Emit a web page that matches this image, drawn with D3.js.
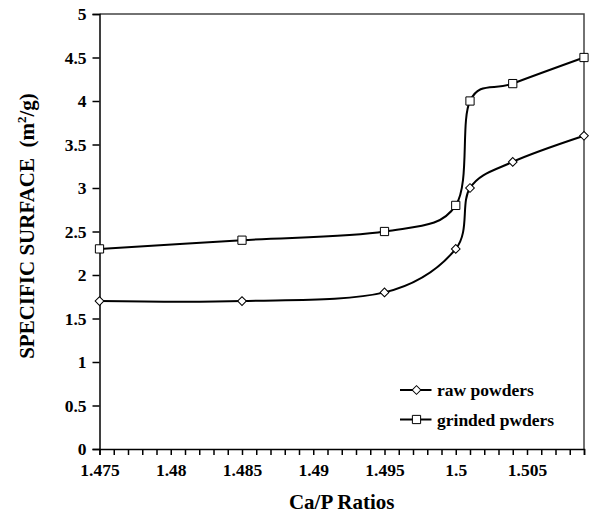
<!DOCTYPE html>
<html>
<head>
<meta charset="utf-8">
<script src="https://cdn.jsdelivr.net/npm/d3@7"></script>
<style>
  body { margin: 0; background: #fff; }
</style>
</head>
<body>
<div id="chart"></div>
<script>
// Ca/P ratios on the x axis
const ratios = [1.475, 1.485, 1.495, 1.5, 1.501, 1.504, 1.509];
// specific surface (m2/g)
const rawPowders = [1.7, 1.7, 1.8, 2.3, 3.0, 3.3, 3.6];
const grindedPowders = [2.3, 2.4, 2.5, 2.8, 4.0, 4.2, 4.5];
const seriesNames = ['raw powders', 'grinded pwders'];
const yTicks = [0, 0.5, 1, 1.5, 2, 2.5, 3, 3.5, 4, 4.5, 5];
const xMajorTicks = [1.475, 1.48, 1.485, 1.49, 1.495, 1.5, 1.505];

const font = 'Liberation Serif';
const width = 591, height = 517;
const margin = {top: 14, right: 7, bottom: 68, left: 99.5};

const svg = d3.select('#chart')
  .append('svg')
    .attr('width', width)
    .attr('height', height)
    .attr('font-family', font)
    .attr('font-weight', 'bold');

const x = d3.scaleLinear()
  .domain([1.475, 1.509])
  .range([margin.left, width - margin.right]);

const y = d3.scaleLinear()
  .domain([0, 5])
  .range([height - margin.bottom, margin.top]);

// plot frame (top + right)
svg.append('path')
  .attr('d', `M${x(1.475)},${y(5)}H${x(1.509)}V${y(0)}`)
  .attr('fill', 'none')
  .attr('stroke', '#444')
  .attr('stroke-width', 1.5);

// y axis
const yAxis = svg.append('g')
  .attr('transform', `translate(${x(1.475)},0)`)
  .call(d3.axisLeft(y).tickValues(yTicks).tickFormat(d3.format('')).tickSize(7).tickPadding(6));
yAxis.attr('font-family', font);
yAxis.select('.domain').attr('stroke', '#000').attr('stroke-width', 1.5);
yAxis.selectAll('.tick line').attr('stroke-width', 1.5);
yAxis.selectAll('text').attr('font-size', 17.5).attr('fill', '#000').attr('font-family', font);

// x axis, minor ticks every 0.001
const minor = d3.range(0, 35).map(i => +(1.475 + i * 0.001).toFixed(3));
const xAxis = svg.append('g')
  .attr('transform', `translate(0,${y(0)})`)
  .call(d3.axisBottom(x).tickValues(minor).tickSize(6).tickPadding(9)
    .tickFormat(d => xMajorTicks.some(t => Math.abs(t - d) < 1e-9) ? d3.format('')(d) : ''));
xAxis.attr('font-family', font);
xAxis.select('.domain').attr('stroke', '#000').attr('stroke-width', 1.5);
xAxis.selectAll('.tick line').attr('stroke-width', 1.5);
xAxis.selectAll('text').attr('font-size', 17.5).attr('fill', '#000').attr('font-family', font);

// axis titles
svg.append('text')
  .attr('x', (x(1.475) + x(1.509)) / 2)
  .attr('y', 509)
  .attr('text-anchor', 'middle')
  .attr('font-size', 21)
  .attr('font-family', font)
  .text('Ca/P Ratios');

const yTitle = svg.append('text')
  .attr('transform', 'translate(34,226) rotate(-90)')
  .attr('text-anchor', 'middle')
  .attr('font-family', font)
  .attr('font-size', 21);
yTitle.append('tspan').text('SPECIFIC SURFACE\u00a0\u00a0(m');
yTitle.append('tspan').attr('font-size', 13).attr('dy', -8).text('2');
yTitle.append('tspan').attr('dy', 8).text('/g)');

// lines
const line = d3.line()
  .x((d, i) => x(ratios[i]))
  .y(d => y(d))
  .curve(d3.curveCardinal.tension(0));

const series = [rawPowders, grindedPowders];
series.forEach(vals => {
  svg.append('path')
    .datum(vals)
    .attr('d', line)
    .attr('fill', 'none')
    .attr('stroke', '#000')
    .attr('stroke-width', 2);
});

const diamond = d3.symbol().type(d3.symbolSquare).size(38);
const square = d3.symbol().type(d3.symbolSquare).size(68);

function drawMarker(g, kind, cx, cy) {
  if (kind === 0) {
    g.append('path')
      .attr('d', diamond())
      .attr('transform', `translate(${cx},${cy}) rotate(45)`)
      .attr('fill', '#fff').attr('stroke', '#000').attr('stroke-width', 1);
  } else {
    g.append('path')
      .attr('d', square())
      .attr('transform', `translate(${cx},${cy})`)
      .attr('fill', '#fff').attr('stroke', '#000').attr('stroke-width', 1);
  }
}

const markers = svg.append('g');
series.forEach((vals, k) => {
  vals.forEach((v, i) => drawMarker(markers, k, x(ratios[i]), y(v)));
});

// legend
const legend = svg.append('g');
seriesNames.forEach((name, k) => {
  const ly = 390 + k * 29.5;
  legend.append('line')
    .attr('x1', 400).attr('x2', 431.5)
    .attr('y1', ly).attr('y2', ly)
    .attr('stroke', '#000').attr('stroke-width', 2);
  drawMarker(legend, k, 416.5, ly);
  legend.append('text')
    .attr('x', 437)
    .attr('y', ly + 6)
    .attr('font-size', 17.5)
    .attr('font-family', font)
    .text(name);
});
</script>
</body>
</html>
